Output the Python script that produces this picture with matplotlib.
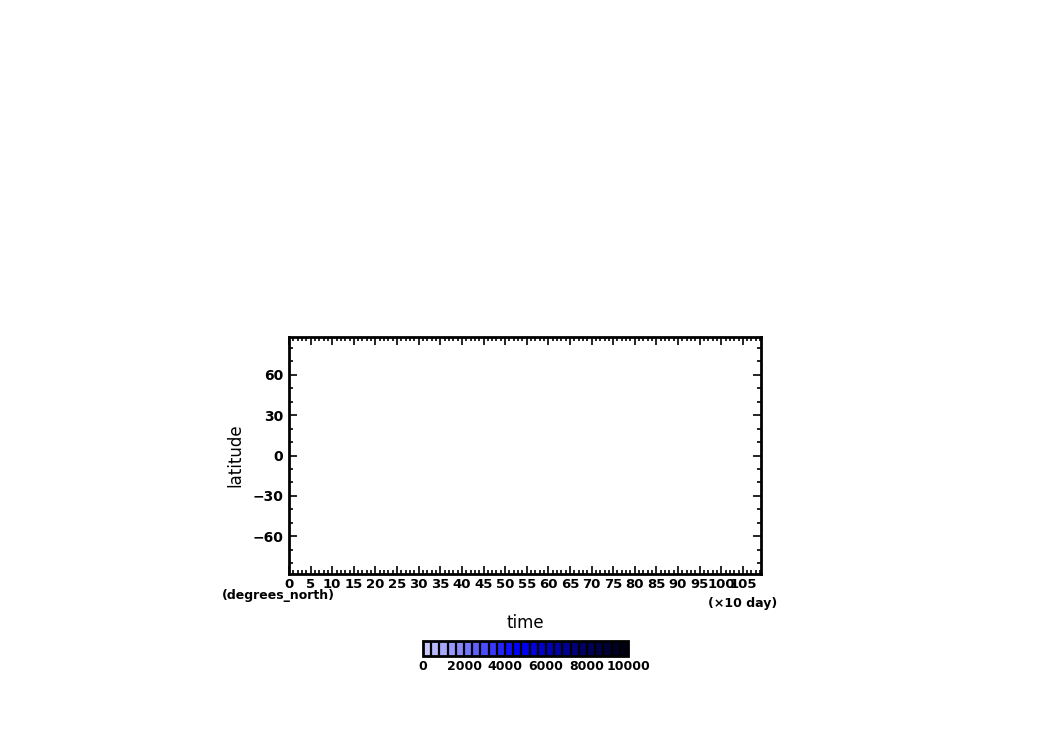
import matplotlib
matplotlib.use("Agg")
import matplotlib.pyplot as plt
import matplotlib.colors as mcolors
from matplotlib.ticker import MultipleLocator, FixedLocator
import numpy as np

# ---- data ----
time_range = [0, 109.2]            # (x10 day)
lat_range = [-87.86, 87.86]        # degrees_north
xticks_major = list(range(0, 110, 5))
yticks_major = [-60, -30, 0, 30, 60]
cbar_levels = list(range(0, 10001, 400))
cbar_ticks = [0, 2000, 4000, 6000, 8000, 10000]
cbar_colors = [
    "#c8c8fa", "#b8b8fa", "#a8a8fb", "#9898fc", "#8888fc", "#7474fd",
    "#6060fd", "#4c4cfe", "#3838fe", "#2424ff", "#1010ff", "#0000ff",
    "#0000f0", "#0000e0", "#0000cc", "#0000b8", "#0000a4", "#000090",
    "#00007c", "#000068", "#000056", "#000044", "#000034", "#000024",
    "#000014",
]

plt.rcParams['font.family'] = ['DejaVu Sans']
plt.rcParams['font.weight'] = 'bold'

fig = plt.figure(figsize=(10.5, 7.42), dpi=100)
ax = fig.add_axes([289/1050, 1-574/742, (761-289)/1050, (574-337)/742])
ax.set_xlim(time_range)
ax.set_ylim(lat_range)

ax.xaxis.set_major_locator(FixedLocator(xticks_major))
ax.xaxis.set_minor_locator(MultipleLocator(1))
ax.yaxis.set_major_locator(FixedLocator(yticks_major))
ax.yaxis.set_minor_locator(MultipleLocator(10))
ax.set_xticklabels([str(v) for v in xticks_major])
ax.set_yticklabels(["\u221260" if v == -60 else ("\u221230" if v == -30 else str(v)) for v in yticks_major])

ax.tick_params(which='both', direction='in', top=True, right=True, width=1.2)
ax.tick_params(which='major', length=6, labelsize=10, pad=4)
ax.tick_params(axis='x', which='major', labelsize=9.5, pad=3)
ax.tick_params(which='minor', length=3)
for lab in ax.get_xticklabels() + ax.get_yticklabels():
    lab.set_fontweight('bold')
for sp in ax.spines.values():
    sp.set_linewidth(2)

ax.set_ylabel("latitude", fontsize=12, labelpad=6, fontweight='normal')
fig.text(222/1050, 1-596/742, "(degrees_north)", fontsize=9, fontweight='bold',
         ha='left', va='center')
fig.text(777/1050, 1-603/742, "(\u00d710 day)", fontsize=9, fontweight='bold',
         ha='right', va='center')
fig.text(525/1050, 1-623/742, "time", fontsize=12, fontweight='normal',
         ha='center', va='center')

# ---- colorbar ----
cmap = mcolors.ListedColormap(cbar_colors)
norm = mcolors.BoundaryNorm(cbar_levels, cmap.N)
cax = fig.add_axes([423/1050, 1-656/742, 205/1050, 15/742])
sm = matplotlib.cm.ScalarMappable(norm=norm, cmap=cmap)
cb = fig.colorbar(sm, cax=cax, orientation='horizontal', drawedges=True,
                  ticks=cbar_ticks)
cb.dividers.set_color('black')
cb.dividers.set_linewidth(1.6)
cb.outline.set_linewidth(2)
cb.ax.minorticks_off()
cb.ax.tick_params(which='both', length=0, labelsize=9, pad=3)
cb.ax.set_xticklabels([str(t) for t in cbar_ticks])
for lab in cb.ax.get_xticklabels():
    lab.set_fontweight('bold')

fig.savefig("out.png", dpi=100)
